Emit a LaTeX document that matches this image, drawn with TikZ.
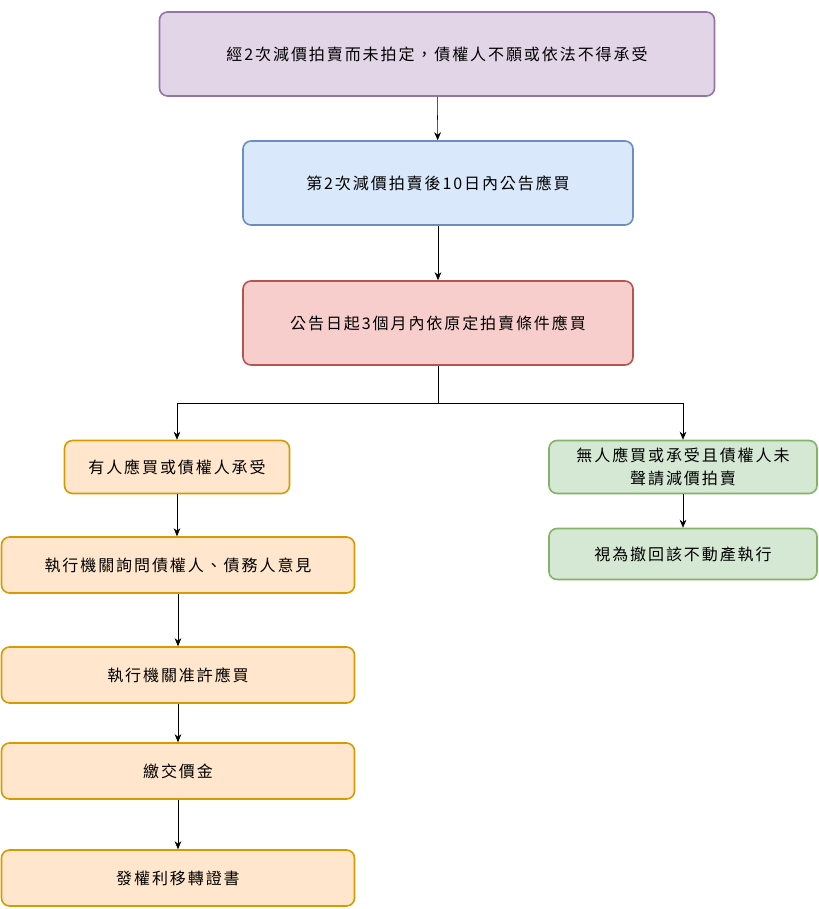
\documentclass[tikz,border=0pt]{standalone}
\usepackage{fontspec}
\newfontfamily\cjk[LetterSpace=12]{Noto Sans CJK TC}
\usetikzlibrary{positioning,arrows.meta}
\tikzset{>={Stealth[length=6pt,width=5pt]}}
\definecolor{purpfill}{HTML}{E1D5E7}\definecolor{purpline}{HTML}{9673A6}
\definecolor{bluefill}{HTML}{DAE8FC}\definecolor{blueline}{HTML}{6C8EBF}
\definecolor{redfill}{HTML}{F8CECC}\definecolor{redline}{HTML}{B85450}
\definecolor{orfill}{HTML}{FFE6CC}\definecolor{orline}{HTML}{D79B00}
\definecolor{grfill}{HTML}{D5E8D4}\definecolor{grline}{HTML}{82B366}
\tikzset{box/.style={draw,rounded corners=6pt,line width=1.2pt,align=center,
  font=\cjk\fontsize{12}{17}\selectfont,inner sep=2pt}}

\begin{document}
\begin{tikzpicture}[x=0.75pt,y=-0.75pt]
\useasboundingbox (0,0) rectangle (818,909);
\node[box,fill=purpfill,draw=purpline,minimum width=555*0.75pt,minimum height=84*0.75pt] (top) at (437,54) {經2次減價拍賣而未拍定，債權人不願或依法不得承受};
\node[box,fill=bluefill,draw=blueline,minimum width=390*0.75pt,minimum height=84*0.75pt] (notice) at (438,183) {第2次減價拍賣後10日內公告應買};
\node[box,fill=redfill,draw=redline,minimum width=390*0.75pt,minimum height=84*0.75pt] (months) at (438,323) {公告日起3個月內依原定拍賣條件應買};
\node[box,fill=orfill,draw=orline,minimum width=225*0.75pt,minimum height=53*0.75pt] (buyer) at (177,467) {有人應買或債權人承受};
\node[box,fill=orfill,draw=orline,minimum width=353*0.75pt,minimum height=56*0.75pt] (ask) at (178,565) {執行機關詢問債權人、債務人意見};
\node[box,fill=orfill,draw=orline,minimum width=353*0.75pt,minimum height=56*0.75pt] (allow) at (178,675) {執行機關准許應買};
\node[box,fill=orfill,draw=orline,minimum width=353*0.75pt,minimum height=56*0.75pt] (pay) at (178,771) {繳交價金};
\node[box,fill=orfill,draw=orline,minimum width=353*0.75pt,minimum height=56*0.75pt] (cert) at (178,878) {發權利移轉證書};
\node[box,fill=grfill,draw=grline,minimum width=268*0.75pt,minimum height=53*0.75pt] (nobuyer) at (683,467) {無人應買或承受且債權人未\\聲請減價拍賣};
\node[box,fill=grfill,draw=grline,minimum width=268*0.75pt,minimum height=51*0.75pt] (withdraw) at (683,554) {視為撤回該不動產執行};
\coordinate (split) at (438,403);
\draw[->] (top) -- (notice);
\draw[->] (notice) -- (months);
\draw (months) -- (split);
\draw[->] (split) -| (buyer);
\draw[->] (split) -| (nobuyer);
\draw[->] (buyer) -- (buyer|-ask.north);
\draw[->] (ask) -- (allow);
\draw[->] (allow) -- (pay);
\draw[->] (pay) -- (cert);
\draw[->] (nobuyer) -- (withdraw);
\end{tikzpicture}
\end{document}
